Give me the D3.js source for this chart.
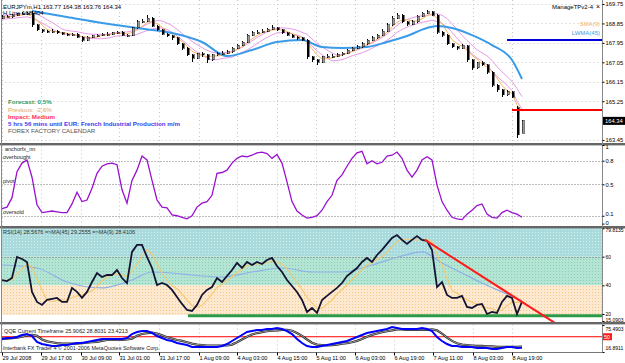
<!DOCTYPE html>
<html>
<head>
<meta charset="utf-8">
<script src="https://cdn.jsdelivr.net/npm/d3@7"></script>
<style>
  body { margin: 0; background: #fff; }
  svg { display: block; font-family: "Liberation Sans", Arial, sans-serif; }
</style>
</head>
<body>
<svg id="chart" width="625" height="363"></svg>
<script>
// ---- data (one entry per ~2h bar) ----
const closes = [169.15,169.15,169.24,169.29,169.29,169.33,168.78,168.55,168.50,168.45,
  168.50,168.41,168.36,168.31,168.36,168.22,168.08,168.22,168.27,168.31,
  168.36,168.36,168.41,168.45,168.31,168.31,168.64,168.92,168.96,169.10,
  168.73,168.55,168.36,168.27,168.18,167.90,167.71,167.39,167.25,167.44,
  167.39,167.16,167.39,167.44,167.48,167.53,167.71,167.85,167.99,168.31,
  168.41,168.45,168.50,168.59,168.64,168.55,168.41,168.31,168.22,168.18,
  168.08,167.30,167.16,167.06,167.30,167.34,167.34,167.39,167.48,167.62,
  167.71,167.76,167.90,168.08,168.18,168.31,168.50,168.78,169.10,169.24,
  168.92,168.82,168.92,169.19,169.33,169.38,169.24,168.45,168.31,167.90,
  167.76,167.71,167.81,167.16,166.79,167.02,166.93,166.60,166.00,165.77,
  165.54,165.68,165.44,163.69,164.34];
const highs = [169.22,169.24,169.30,169.35,169.36,169.40,169.43,168.82,168.60,168.56,
  168.57,168.53,168.46,168.42,168.43,168.40,168.26,168.27,168.33,168.38,
  168.42,168.44,168.47,168.52,168.50,168.38,168.70,168.99,169.05,169.24,
  169.14,168.78,168.60,168.42,168.33,168.22,167.95,167.76,167.45,167.50,
  167.52,167.44,167.45,167.52,167.56,167.60,167.78,167.92,168.06,168.38,
  168.50,168.54,168.58,168.66,168.78,168.70,168.60,168.46,168.36,168.28,
  168.24,168.12,167.36,167.22,167.36,167.42,167.42,167.46,167.55,167.68,
  167.78,167.84,167.97,168.15,168.25,168.38,168.57,168.85,169.18,169.33,
  169.28,168.98,169.00,169.26,169.40,169.47,169.43,169.28,168.52,168.36,
  167.96,167.82,167.88,167.85,167.20,167.08,167.10,166.98,166.64,166.04,
  165.82,165.78,165.72,165.03,164.38];
const lows = [169.05,169.08,169.12,169.20,169.22,169.25,168.70,168.48,168.42,168.40,
  168.40,168.35,168.30,168.25,168.27,168.16,167.99,168.04,168.18,168.22,
  168.27,168.29,168.31,168.36,168.25,168.24,168.28,168.60,168.86,168.90,
  168.68,168.48,168.30,168.20,168.10,167.84,167.62,167.32,167.06,167.20,
  167.30,167.02,167.10,167.34,167.38,167.42,167.48,167.66,167.80,167.94,
  168.25,168.36,168.40,168.44,168.54,168.48,168.35,168.25,168.16,168.10,
  168.02,167.22,167.08,166.93,167.00,167.24,167.27,167.28,167.33,167.42,
  167.56,167.65,167.70,167.85,168.02,168.12,168.26,168.45,168.72,169.04,
  168.85,168.75,168.77,168.88,169.14,169.28,169.18,168.38,168.24,167.84,
  167.70,167.64,167.66,167.08,166.70,166.74,166.86,166.52,165.92,165.68,
  165.46,165.50,165.38,163.55,163.76];
const firstOpen = 169.10;
const gapBars = [103, 104];
const gapOpens = [164.94, 163.77];

// LWMA(45) read at a few bars (needs history off the left edge)
const lwmaBars = [6,13,20,30,34,40,45,50,55,60,64,68,73,77,81,85,87,90,94,98,102,104];
const lwmaVals = [169.43,169.15,168.87,168.55,168.41,167.99,167.34,167.62,167.99,168.08,167.76,
  167.71,167.76,167.99,168.27,168.64,168.73,168.64,168.31,167.85,167.16,166.28];

const redLevel = 164.84, redFromBar = 102;
const blueLevel = 168.08, blueFromBar = 101;

const anchorVals = [0.19,0.21,0.33,0.66,0.77,0.81,0.59,0.24,0.14,0.15,
  0.16,0.15,0.14,0.14,0.25,0.40,0.28,0.30,0.45,0.64,
  0.73,0.76,0.77,0.75,0.43,0.26,0.55,0.68,0.86,0.81,
  0.55,0.30,0.21,0.20,0.11,0.10,0.08,0.06,0.10,0.21,
  0.26,0.28,0.36,0.64,0.65,0.68,0.77,0.83,0.86,0.85,
  0.87,0.90,0.91,0.89,0.83,0.88,0.77,0.53,0.28,0.16,
  0.11,0.07,0.08,0.10,0.17,0.28,0.36,0.55,0.62,0.73,
  0.83,0.90,0.92,0.76,0.80,0.76,0.78,0.86,0.87,0.91,
  0.83,0.68,0.59,0.68,0.81,0.85,0.81,0.49,0.28,0.17,
  0.08,0.06,0.05,0.12,0.17,0.23,0.25,0.12,0.08,0.07,
  0.14,0.17,0.14,0.12,0.08];
const anchorLevels = [0.8, 0.5, 0.1];
const anchorLevelNames = ["overbought", "pivot", "oversold"];
const anchorTicks = [1, 0.8, 0.5, 0.1, 0];

const rsiVals = [43.7,43.0,45.1,59.8,58.4,56.3,35.4,28.4,26.3,29.8,
  30.5,31.2,28.4,28.4,38.2,35.4,31.2,35.4,42.3,48.6,
  45.8,47.2,47.2,50.7,45.1,41.6,63.3,68.2,68.2,59.8,
  52.1,40.2,41.6,40.2,36.8,31.9,27.0,22.8,22.1,26.3,
  33.3,36.8,38.8,45.1,42.3,46.5,50.7,55.6,52.1,56.3,
  54.2,56.3,54.9,57.7,59.1,53.5,49.3,43.7,39.5,35.4,
  29.8,21.4,24.2,20.7,29.8,32.6,35.4,38.2,41.6,46.5,
  49.3,52.1,56.3,59.1,56.3,61.2,64.7,68.9,73.1,75.1,
  71.7,68.9,71.7,74.4,71.7,71.0,64.7,38.8,42.3,33.3,
  31.2,31.2,32.6,24.9,24.2,26.3,27.0,20.0,21.4,20.7,
  28.4,32.6,31.2,20.0,28.6];
const rsiMaBars = [0,7,13,20,23,26,30,34,38,44,50,56,62,68,74,80,84,88,92,96,100,104];
const rsiMaVals = [54.2,52.1,42.3,38.2,40.2,43.7,49.3,48.6,47.2,45.8,49.3,52.1,49.3,49.3,
  54.2,60.5,63.3,55.6,48.6,41.6,35.4,29.3];
const rsiTicks = [79.8135, 60, 40, 20, 15.0903];
const rsiZones = [79.8135, 60, 40, 19.3];
const greenLevel = 18.8, greenFromBar = 37.2;
const trendBars = [84.6, 110.6];
const trendVals = [71.7, 13.7];

const qqeVals = [45.1,47.3,47.3,49.4,53.8,55.9,51.6,38.6,34.2,32.1,
  29.9,29.9,32.1,32.1,34.2,36.4,36.4,38.6,40.8,42.9,
  45.1,45.1,45.1,45.1,45.1,47.3,55.9,60.3,62.4,62.4,
  58.1,51.6,47.3,42.9,40.8,36.4,34.2,32.1,27.7,27.7,
  27.7,27.7,27.7,27.7,29.9,34.2,40.8,47.3,53.8,60.3,
  62.4,64.6,64.6,66.8,66.8,68.9,66.8,62.4,55.9,45.1,
  36.4,29.9,27.7,27.7,29.9,32.1,34.2,36.4,38.6,40.8,
  45.1,49.4,53.8,58.1,60.3,62.4,64.6,66.8,71.1,68.9,
  66.8,66.8,66.8,66.8,68.9,66.8,62.4,49.4,40.8,34.2,
  29.9,29.9,27.7,27.7,27.7,25.6,25.6,25.6,23.4,23.4,
  25.6,27.7,27.7,25.6,25.9];
const qqeSignal = [46,46,47,48,50,53,54,52,44,40,
  38,36,35,35,35,35,36,37,38,39,
  41,43,43,43,43,44,46,52,56,58,
  59,57,53,49,46,43,41,38,35,33,
  32,31,31,31,31,31,33,38,44,50,
  55,58,60,62,63,64,65,65,63,58,
  52,44,37,33,32,31,32,33,35,36,
  38,41,45,50,54,57,60,62,64,66,
  66,65,65,65,65,65,66,64,57,48,
  41,36,33,32,31,30,30,29,29,28,
  28,28,28,28,28.8];
const qqeTicks = [75.4903, 16.8911];
const qqeLevel = 50;

const priceTicks = [169.75, 168.85, 167.95, 167.05, 166.15, 165.25, 163.45];
const timeLabels = ["29 Jul 2008","29 Jul 17:00","30 Jul 09:00","31 Jul 01:00","31 Jul 17:00",
  "1 Aug 09:00","4 Aug 03:00","4 Aug 15:00","5 Aug 11:00","6 Aug 03:00","6 Aug 19:00",
  "7 Aug 11:00","8 Aug 03:00","8 Aug 19:00"];
const timeTickBars = [0,7.8,15.8,23.4,31.4,39.4,47,55,62.8,70.6,78.4,86.2,94.2,102];

const calendarLines = [
  {text: "Forecast: 0.5%", color: "#2f9a62", bold: true},
  {text: "Previous: -2.6%", color: "#e0a468", bold: false},
  {text: "Impact: Medium", color: "#ff3358", bold: true},
  {text: "5 hrs 56 mins until EUR: French Industrial Production m/m", color: "#3a3af0", bold: true},
  {text: "FOREX FACTORY CALENDAR", color: "#555", bold: false}
];

// ---- layout ----
const PLOT_L = 1.5, PLOT_R = 602;
const MAIN = [0, 143], ANCH = [145.5, 226], RSI = [228, 322], QQE = [324.5, 352];
const FONT = "Liberation Sans, Arial, sans-serif";

const svg = d3.select("#chart");
const defs = svg.append("defs");

const x = d3.scaleLinear().domain([0, closes.length - 1]).range([2, 522]);
const yP = d3.scaleLinear().domain([163.45, 169.75]).range([140.1, 4]);
const yA = d3.scaleLinear().domain([0, 1]).range([223.6, 145]);
const yR = d3.scaleLinear().domain([15.0903, 79.8135]).range([321, 228.3]);
const yQ = d3.scaleLinear().domain([16.8911, 75.4903]).range([352, 325]);

const sma = (arr, n) => arr.map((_, i) => d3.mean(arr.slice(Math.max(0, i - n + 1), i + 1)));

const clip = (id, band) => {
  defs.append("clipPath").attr("id", id).append("rect")
    .attr("x", PLOT_L).attr("y", band[0]).attr("width", PLOT_R - PLOT_L).attr("height", band[1] - band[0]);
  return svg.append("g").attr("clip-path", `url(#${id})`);
};

const dotPattern = (id, bg, dot) => {
  const p = defs.append("pattern").attr("id", id).attr("width", 3).attr("height", 3)
    .attr("patternUnits", "userSpaceOnUse");
  p.append("rect").attr("width", 3).attr("height", 3).attr("fill", bg);
  p.append("rect").attr("x", 1).attr("y", 1).attr("width", 1).attr("height", 1).attr("fill", dot);
};
dotPattern("pTeal", "#a9dbdd", "#d4eeef");
dotPattern("pMint", "#b3e4d4", "#86cfb4");
dotPattern("pPeach", "#fde9cf", "#f5c68c");

const label = (g, tx, ty, text, color, size, weight) =>
  g.append("text").attr("x", tx).attr("y", ty).text(text)
    .attr("fill", color || "#000").attr("font-size", size || 6)
    .attr("font-weight", weight || "normal").attr("font-family", FONT);

const gridX = (g, band) => g.append("g").selectAll("line").data(timeTickBars).join("line")
  .attr("x1", d => Math.round(x(d)) + 0.5).attr("x2", d => Math.round(x(d)) + 0.5)
  .attr("y1", band[0]).attr("y2", band[1])
  .attr("stroke", "#c4c4c4").attr("stroke-dasharray", "1,3");

// ---- main price panel ----
const gMain = clip("cMain", MAIN);
gridX(gMain, MAIN);
gMain.append("g").selectAll("line").data(priceTicks).join("line")
  .attr("x1", PLOT_L).attr("x2", PLOT_R)
  .attr("y1", d => Math.round(yP(d)) + 0.5).attr("y2", d => Math.round(yP(d)) + 0.5)
  .attr("stroke", "#c4c4c4").attr("stroke-dasharray", "1,3");

const bars = closes.map((c, i) => {
  const gi = gapBars.indexOf(i);
  const o = gi >= 0 ? gapOpens[gi] : (i ? closes[i - 1] : firstOpen);
  return {i, o, c, h: highs[i], l: lows[i]};
});

const maLine = (yScale) => d3.line().x((d, i) => x(i)).y(d => yScale(d));
gMain.append("path").attr("d", maLine(yP)(sma(highs, 6)))
  .attr("fill", "none").attr("stroke", "#e79be6").attr("stroke-width", 1);
gMain.append("path").attr("d", maLine(yP)(sma(lows, 6)))
  .attr("fill", "none").attr("stroke", "#e79be6").attr("stroke-width", 1);
gMain.append("path").attr("d", maLine(yP)(sma(closes, 4)))
  .attr("fill", "none").attr("stroke", "#f4b55c").attr("stroke-width", 1);
gMain.append("path")
  .attr("d", d3.line().curve(d3.curveMonotoneX).x(d => x(d[0])).y(d => yP(d[1]))(lwmaBars.map((b, k) => [b, lwmaVals[k]])))
  .attr("fill", "none").attr("stroke", "#3a9be8").attr("stroke-width", 2);

const gBars = gMain.append("g").attr("shape-rendering", "crispEdges");
gBars.selectAll("line").data(bars).join("line")
  .attr("x1", d => x(d.i) + 0.5).attr("x2", d => x(d.i) + 0.5)
  .attr("y1", d => yP(d.h)).attr("y2", d => yP(d.l))
  .attr("stroke", "#000").attr("stroke-width", 1);
gBars.selectAll("rect").data(bars).join("rect")
  .attr("x", d => x(d.i)).attr("width", 2)
  .attr("y", d => yP(Math.max(d.o, d.c)))
  .attr("height", d => Math.max(1, Math.abs(yP(d.o) - yP(d.c))))
  .attr("fill", d => d.c >= d.o ? "#9a9a9a" : "#000")
  .attr("stroke", "#000").attr("stroke-width", 0.5);

gMain.append("line").attr("x1", x(redFromBar)).attr("x2", PLOT_R)
  .attr("y1", yP(redLevel)).attr("y2", yP(redLevel)).attr("stroke", "#ff0000").attr("stroke-width", 2);
gMain.append("line").attr("x1", x(blueFromBar)).attr("x2", PLOT_R)
  .attr("y1", yP(blueLevel)).attr("y2", yP(blueLevel)).attr("stroke", "#0000dd").attr("stroke-width", 2);

label(svg, 3, 8.5, "EURJPYm,H1  163.77 164.38 163.76 164.34", "#000", 6);
label(svg, 3, 15, "H Line 168.404", "#000", 6);
label(svg, 552, 9, "ManageTPv2-4", "#000", 6);
label(svg, 596, 9, "\u00d7", "#000", 7);
label(svg, 600, 26, "SMA(9)", "#f4b55c", 6).attr("text-anchor", "end");
label(svg, 600, 35, "LWMA(45)", "#3a9be8", 6).attr("text-anchor", "end");
calendarLines.forEach((c, k) =>
  label(svg, 8, 104.3 + k * 7.25, c.text, c.color, 6.2, c.bold ? "bold" : "normal"));

// ---- anchorfx_nn panel ----
const gAnch = clip("cAnch", ANCH);
gridX(gAnch, ANCH);
gAnch.append("g").selectAll("line").data(anchorLevels).join("line")
  .attr("x1", PLOT_L).attr("x2", PLOT_R)
  .attr("y1", d => Math.round(yA(d)) + 0.5).attr("y2", d => Math.round(yA(d)) + 0.5)
  .attr("stroke", "#777").attr("stroke-dasharray", "1,2");
gAnch.append("path").attr("d", maLine(yA)(anchorVals))
  .attr("fill", "none").attr("stroke", "#9a10d0").attr("stroke-width", 1.3);
label(svg, 5, 151, "anchorfx_nn", "#222", 5.5);
anchorLevels.forEach((lv, k) => label(svg, 3, yA(lv) - 1.5, anchorLevelNames[k], "#222", 5.5));

// ---- RSI panel ----
const gRsi = clip("cRsi", RSI);
const zoneFill = ["url(#pTeal)", "url(#pMint)", "url(#pPeach)"];
gRsi.append("g").selectAll("rect").data(zoneFill).join("rect")
  .attr("x", PLOT_L).attr("width", PLOT_R - PLOT_L)
  .attr("y", (d, k) => k === 0 ? RSI[0] : yR(rsiZones[k]))
  .attr("height", (d, k) => yR(rsiZones[k + 1]) - (k === 0 ? RSI[0] : yR(rsiZones[k])))
  .attr("fill", d => d);
gRsi.append("line").attr("x1", PLOT_L).attr("x2", PLOT_R)
  .attr("y1", Math.round(yR(60)) + 0.5).attr("y2", Math.round(yR(60)) + 0.5)
  .attr("stroke", "#666").attr("stroke-dasharray", "1,2");
gRsi.append("line").attr("x1", x(greenFromBar)).attr("x2", PLOT_R)
  .attr("y1", yR(greenLevel)).attr("y2", yR(greenLevel)).attr("stroke", "#2a9a48").attr("stroke-width", 3);
gRsi.append("path")
  .attr("d", d3.line().curve(d3.curveMonotoneX).x(d => x(d[0])).y(d => yR(d[1]))(rsiMaBars.map((b, k) => [b, rsiMaVals[k]])))
  .attr("fill", "none").attr("stroke", "#8fb0e6").attr("stroke-width", 1.2);
gRsi.append("path").attr("d", maLine(yR)(sma(rsiVals, 4)))
  .attr("fill", "none").attr("stroke", "#f5c870").attr("stroke-width", 1.1);
gRsi.append("path").attr("d", maLine(yR)(rsiVals))
  .attr("fill", "none").attr("stroke", "#141432").attr("stroke-width", 1.8);
gRsi.append("line")
  .attr("x1", x(trendBars[0])).attr("y1", yR(trendVals[0]))
  .attr("x2", x(trendBars[1])).attr("y2", yR(trendVals[1]))
  .attr("stroke", "#ff1a1a").attr("stroke-width", 2);
label(svg, 3, 234, "RSI(14) 28.5676  =>MA(45) 29.2555  =>MA(9) 28.4106", "#333", 5.5);

// ---- QQE panel ----
const gQqe = clip("cQqe", QQE);
gridX(gQqe, QQE);
gQqe.append("line").attr("x1", PLOT_L).attr("x2", PLOT_R)
  .attr("y1", yQ(qqeLevel)).attr("y2", yQ(qqeLevel)).attr("stroke", "#ff0000").attr("stroke-width", 1);
gQqe.append("path").attr("d", maLine(yQ)(qqeSignal))
  .attr("fill", "none").attr("stroke", "#222").attr("stroke-width", 2.2);
gQqe.append("path").attr("d", maLine(yQ)(qqeSignal))
  .attr("fill", "none").attr("stroke", "#a8a8a8").attr("stroke-width", 0.9);
gQqe.append("path").attr("d", maLine(yQ)(qqeVals))
  .attr("fill", "none").attr("stroke", "#0000ff").attr("stroke-width", 2);
label(svg, 4, 333, "QQE Current Timeframe 25.9062 28.8031 23.4213", "#222", 5.5);
label(svg, 3, 349.5, "Interbank FX Trader 4 \u00a9 2001-2006 MetaQuotes Software Corp.", "#222", 5.5);

// ---- frame & separators ----
[MAIN[1], ANCH[1], RSI[1]].forEach(yy =>
  svg.append("rect").attr("x", 0).attr("y", yy).attr("width", 625).attr("height", 2.4).attr("fill", "#666"));
svg.append("line").attr("x1", 0).attr("x2", PLOT_R).attr("y1", 352.5).attr("y2", 352.5).attr("stroke", "#777");
svg.append("line").attr("x1", 1.5).attr("x2", 1.5).attr("y1", 0).attr("y2", 352.5).attr("stroke", "#888");
svg.append("line").attr("x1", PLOT_R + 0.5).attr("x2", PLOT_R + 0.5).attr("y1", 0).attr("y2", 352.5).attr("stroke", "#888");

// ---- axes ----
const rightAxis = (scale, ticks, fmt, shift, size) => {
  const g = svg.append("g").attr("transform", `translate(${PLOT_R + 0.5},0)`)
    .call(d3.axisRight(scale).tickValues(ticks).tickFormat(fmt).tickSize(2).tickPadding(1));
  g.attr("font-size", size || 5.8).attr("font-family", FONT);
  g.select(".domain").remove();
  g.selectAll(".tick line").attr("stroke", "#000");
  g.selectAll(".tick text").attr("fill", "#000");
  if (shift) g.selectAll(".tick text").attr("y", d => shift(d));
  return g;
};
rightAxis(yP, priceTicks, d3.format(".2f"));
rightAxis(yA, anchorTicks, d => String(d), d => d === 1 ? 2 : d === 0.1 ? -1.8 : d === 0 ? -1 : 0);
rightAxis(yR, rsiTicks, d => Number.isInteger(d) ? String(d) : d.toFixed(4),
  d => d > 70 ? 2 : d < 16 ? -1 : 0, 5);
rightAxis(yQ, qqeTicks, d => d.toFixed(4), d => d > 70 ? 3.5 : -4, 5);

const lastClose = closes[closes.length - 1];
svg.append("rect").attr("x", PLOT_R + 1).attr("y", yP(lastClose) - 4).attr("width", 22).attr("height", 8).attr("fill", "#000");
label(svg, PLOT_R + 3, yP(lastClose) + 2, d3.format(".2f")(lastClose), "#fff", 5.8);
svg.append("rect").attr("x", PLOT_R + 1).attr("y", yQ(qqeLevel) - 3.5).attr("width", 9).attr("height", 7).attr("fill", "#ff1a1a");
label(svg, PLOT_R + 2, yQ(qqeLevel) + 2, String(qqeLevel), "#fff", 5.5);

const tAxis = svg.append("g").attr("transform", "translate(0,352.5)")
  .call(d3.axisBottom(x).tickValues(timeTickBars).tickFormat((d, k) => timeLabels[k]).tickSize(3).tickPadding(1));
tAxis.attr("font-size", 5.6).attr("font-family", FONT);
tAxis.select(".domain").remove();
tAxis.selectAll(".tick line").attr("stroke", "#000");
tAxis.selectAll(".tick text").attr("text-anchor", "start").attr("fill", "#000");
</script>
</body>
</html>
